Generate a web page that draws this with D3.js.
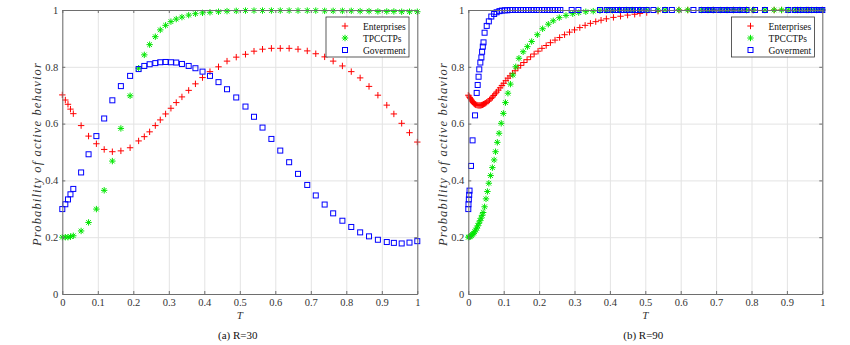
<!DOCTYPE html>
<html>
<head>
<meta charset="utf-8">
<script src="https://cdn.jsdelivr.net/npm/d3@7"></script>
<style>
  body { margin: 0; background: #fff; }
</style>
</head>
<body>
<div id="chart"></div>
<script>
// ---------- data ----------
const seriesNames = ["Enterprises", "TPCCTPs", "Goverment"];
const xTicks = [0, 0.1, 0.2, 0.3, 0.4, 0.5, 0.6, 0.7, 0.8, 0.9, 1];
const yTicks = [0, 0.2, 0.4, 0.6, 0.8, 1];
const captions = ["(a) R=30", "(b) R=90"];

// (a) R=30 : one shared time vector
const tA = [0, 0.0085, 0.016, 0.023, 0.031, 0.053, 0.074, 0.096, 0.118, 0.141, 0.165, 0.191, 0.215,
  0.231, 0.246, 0.262, 0.276, 0.291, 0.306, 0.321, 0.337, 0.356, 0.375, 0.395, 0.416, 0.44, 0.464,
  0.49, 0.516, 0.54, 0.564, 0.589, 0.614, 0.639, 0.664, 0.69, 0.714, 0.739, 0.763, 0.789, 0.814,
  0.839, 0.864, 0.889, 0.914, 0.934, 0.956, 0.978, 1];
const entA = [0.701, 0.683, 0.668, 0.651, 0.635, 0.593, 0.556, 0.529, 0.509, 0.501, 0.504, 0.515, 0.539,
  0.554, 0.571, 0.593, 0.613, 0.634, 0.654, 0.674, 0.694, 0.717, 0.74, 0.762, 0.783, 0.8, 0.82,
  0.834, 0.844, 0.855, 0.862, 0.865, 0.865, 0.865, 0.862, 0.856, 0.846, 0.835, 0.82, 0.803, 0.783,
  0.761, 0.731, 0.7, 0.665, 0.634, 0.601, 0.568, 0.535];
const tpcA = [0.2, 0.2, 0.2, 0.202, 0.205, 0.222, 0.252, 0.299, 0.365, 0.468, 0.583, 0.698, 0.795,
  0.842, 0.878, 0.906, 0.93, 0.946, 0.959, 0.968, 0.975, 0.982, 0.987, 0.99, 0.992, 0.994, 0.996,
  0.997, 0.998, 0.998, 0.998, 0.998, 0.998, 0.998, 0.998, 0.998, 0.998, 0.997, 0.997, 0.997, 0.997,
  0.996, 0.996, 0.995, 0.995, 0.995, 0.994, 0.994, 0.994];
const govA = [0.299, 0.316, 0.333, 0.351, 0.37, 0.428, 0.492, 0.556, 0.618, 0.682, 0.732, 0.768, 0.792,
  0.803, 0.809, 0.813, 0.816, 0.817, 0.816, 0.815, 0.81, 0.803, 0.795, 0.783, 0.768, 0.746, 0.721,
  0.692, 0.66, 0.624, 0.586, 0.546, 0.505, 0.464, 0.423, 0.384, 0.347, 0.315, 0.284, 0.258, 0.236,
  0.217, 0.203, 0.191, 0.183, 0.18, 0.178, 0.181, 0.186];

// (b) R=90 : each series has its own time points
const tEntB = [0, 0.002, 0.004, 0.006, 0.008, 0.01, 0.012, 0.014, 0.016, 0.018, 0.02, 0.022, 0.025,
  0.028, 0.031, 0.034, 0.037, 0.04, 0.043, 0.046, 0.049, 0.052, 0.056, 0.06, 0.064, 0.068, 0.072,
  0.076, 0.08, 0.085, 0.09, 0.095, 0.1, 0.106, 0.112, 0.118, 0.125, 0.132, 0.14, 0.148, 0.157,
  0.166, 0.176, 0.186, 0.197, 0.208, 0.22, 0.232, 0.245, 0.258, 0.272, 0.286, 0.3, 0.315, 0.33,
  0.345, 0.36, 0.375, 0.39, 0.41, 0.43, 0.45, 0.47, 0.485, 0.504, 0.536, 0.595, 0.62, 0.692,
  0.749, 0.786, 0.805, 0.864, 0.885, 0.93, 0.96, 1];
const entB = [0.7, 0.697, 0.692, 0.688, 0.684, 0.68, 0.677, 0.674, 0.671, 0.669, 0.667, 0.666, 0.665,
  0.664, 0.664, 0.664, 0.665, 0.666, 0.668, 0.67, 0.672, 0.675, 0.679, 0.683, 0.688, 0.693, 0.699,
  0.705, 0.711, 0.718, 0.726, 0.734, 0.742, 0.751, 0.76, 0.768, 0.777, 0.786, 0.796, 0.805, 0.815,
  0.825, 0.835, 0.845, 0.855, 0.865, 0.875, 0.885, 0.894, 0.903, 0.913, 0.922, 0.93, 0.938, 0.946,
  0.953, 0.959, 0.964, 0.969, 0.974, 0.978, 0.982, 0.985, 0.988, 0.991, 0.996, 1, 1, 1,
  1, 1, 1, 1, 1, 1, 1, 1];
const tTpcB = [0, 0.003, 0.006, 0.009, 0.012, 0.015, 0.018, 0.021, 0.024, 0.027, 0.03, 0.033, 0.036,
  0.039, 0.042, 0.046, 0.05, 0.054, 0.058, 0.063, 0.068, 0.073, 0.077, 0.082, 0.087, 0.093, 0.099,
  0.105, 0.112, 0.119, 0.126, 0.134, 0.143, 0.155, 0.167, 0.179, 0.195, 0.21, 0.226, 0.24, 0.257,
  0.276, 0.295, 0.312, 0.332, 0.353, 0.372, 0.391, 0.407, 0.427, 0.447, 0.463, 0.485, 0.504, 0.536,
  0.556, 0.595, 0.62, 0.659, 0.677, 0.692, 0.713, 0.731, 0.749, 0.767, 0.786, 0.805, 0.838, 0.864,
  0.885, 0.904, 0.923, 0.939, 0.955, 0.97, 0.984, 1];
const tpcB = [0.2, 0.201, 0.203, 0.206, 0.21, 0.214, 0.219, 0.225, 0.232, 0.24, 0.249, 0.258, 0.267,
  0.277, 0.287, 0.307, 0.335, 0.361, 0.39, 0.417, 0.445, 0.472, 0.501, 0.534, 0.566, 0.601, 0.636,
  0.674, 0.707, 0.739, 0.771, 0.8, 0.83, 0.853, 0.871, 0.889, 0.913, 0.934, 0.95, 0.962, 0.973,
  0.981, 0.987, 0.991, 0.994, 0.996, 0.998, 0.999, 0.999, 1, 1, 1, 1, 1, 1,
  1, 1, 1, 1, 1, 1, 1, 1, 1, 1, 1, 1, 1, 1,
  1, 1, 1, 1, 1, 1, 1, 1];
const tGovB = [0, 0.0005, 0.0015, 0.0025, 0.0035, 0.0076, 0.012, 0.019, 0.0237, 0.0265, 0.029, 0.031,
  0.034, 0.037, 0.039, 0.041, 0.043, 0.046, 0.052, 0.058, 0.065, 0.073, 0.08, 0.088,
  0.095, 0.103, 0.11, 0.118, 0.125, 0.133, 0.14, 0.148, 0.155, 0.163, 0.17, 0.178, 0.185, 0.193,
  0.2, 0.208, 0.215, 0.223, 0.23, 0.238, 0.245, 0.253, 0.26, 0.292, 0.311, 0.372, 0.391, 0.399,
  0.407, 0.415, 0.423, 0.431, 0.439, 0.447, 0.455, 0.463, 0.471, 0.479, 0.487, 0.495, 0.504, 0.523,
  0.556, 0.575, 0.636, 0.659, 0.668, 0.677, 0.686, 0.695, 0.704, 0.713, 0.722, 0.731, 0.74, 0.749,
  0.758, 0.767, 0.776, 0.786, 0.81, 0.838, 0.904, 0.923, 0.931, 0.939, 0.947, 0.955, 0.962, 0.97,
  0.977, 0.984, 0.99, 0.995, 1];
const govB = [0.299, 0.316, 0.333, 0.349, 0.364, 0.451, 0.541, 0.629, 0.708, 0.736, 0.765, 0.791,
  0.815, 0.833, 0.853, 0.871, 0.886, 0.92, 0.944, 0.96, 0.977, 0.986, 0.992, 0.996,
  0.998, 0.999, 0.999, 1, 1, 1, 1, 1, 1, 1, 1, 1, 1, 1,
  1, 1, 1, 1, 1, 1, 1, 1, 1, 1, 1, 1, 1, 1,
  1, 1, 1, 1, 1, 1, 1, 1, 1, 1, 1, 1, 1, 1,
  1, 1, 1, 1, 1, 1, 1, 1, 1, 1, 1, 1, 1, 1,
  1, 1, 1, 1, 1, 1, 1, 1, 1, 1, 1, 1, 1, 1,
  1, 1, 1, 1, 1];

// ---------- drawing ----------
const W = 850, H = 345;
const FONT = "Liberation Serif, Times New Roman, DejaVu Serif, serif";

const svg = d3.select("#chart").append("svg")
    .attr("width", W)
    .attr("height", H)
    .style("display", "block")
    .style("font-family", FONT);
svg.append("rect").attr("width", W).attr("height", H).attr("fill", "#fff");

const colors = ["#ff0000", "#00e600", "#0000ff"];
const ms = 3.2;  // marker half size

function marker(sel, kind) {
    if (kind === 0) {
        sel.append("path").attr("d", `M${-ms},0H${ms}M0,${-ms}V${ms}`)
            .attr("stroke", colors[0]).attr("stroke-width", 1).attr("fill", "none");
    } else if (kind === 1) {
        let d = ms * 0.72;
        sel.append("path").attr("d", `M${-ms},0H${ms}M0,${-ms}V${ms}M${-d},${-d}L${d},${d}M${-d},${d}L${d},${-d}`)
            .attr("stroke", colors[1]).attr("stroke-width", 1).attr("fill", "none");
    } else {
        sel.append("rect").attr("x", -2.5).attr("y", -2.5).attr("width", 5).attr("height", 5)
            .attr("stroke", colors[2]).attr("stroke-width", 1).attr("fill", "none");
    }
}

function drawPanel(left, right, caption, series, legendX) {
    let top = 10, bottom = 294;
    let x = d3.scaleLinear().domain([0, 1]).range([left, right]);
    let y = d3.scaleLinear().domain([0, 1]).range([bottom, top]);
    let g = svg.append("g");

    // grid
    g.append("g")
        .attr("class", "grid")
        .attr("transform", `translate(0,${bottom})`)
        .call(d3.axisBottom(x).tickValues(xTicks).tickSize(-(bottom - top)).tickFormat(""))
        .call(a => a.select(".domain").remove());
    g.append("g")
        .attr("class", "grid")
        .attr("transform", `translate(${left},0)`)
        .call(d3.axisLeft(y).tickValues(yTicks).tickSize(-(right - left)).tickFormat(""))
        .call(a => a.select(".domain").remove());
    g.selectAll(".grid line").attr("stroke", "#e3e3e3");

    // series
    series.forEach((s, k) => {
        let pts = s.t.map((t, i) => [t, s.v[i]]);
        g.append("g").selectAll("g")
            .data(pts)
            .enter()
            .append("g")
            .attr("transform", d => `translate(${x(d[0])},${y(d[1])})`)
            .each(function() { marker(d3.select(this), k); });
    });

    // axes with inward ticks on all four sides
    let fmt = d => String(d);
    let axes = [
        g.append("g").attr("transform", `translate(0,${bottom})`)
            .call(d3.axisBottom(x).tickValues(xTicks).tickSizeInner(-3).tickSizeOuter(0).tickPadding(5).tickFormat(fmt)),
        g.append("g").attr("transform", `translate(${left},0)`)
            .call(d3.axisLeft(y).tickValues(yTicks).tickSizeInner(-3).tickSizeOuter(0).tickPadding(4).tickFormat(fmt)),
        g.append("g").attr("transform", `translate(0,${top})`)
            .call(d3.axisTop(x).tickValues(xTicks).tickSizeInner(-3).tickSizeOuter(0).tickFormat("")),
        g.append("g").attr("transform", `translate(${right},0)`)
            .call(d3.axisRight(y).tickValues(yTicks).tickSizeInner(-3).tickSizeOuter(0).tickFormat(""))
    ];
    axes.forEach(a => {
        a.attr("font-family", null).attr("font-size", null);
        a.select(".domain").attr("stroke", "#6e6e6e");
        a.selectAll(".tick line").attr("stroke", "#6e6e6e");
        a.selectAll(".tick text").attr("fill", "#333")
            .style("font-family", FONT).style("font-size", "10.5px");
    });

    // labels
    let label = "Probability of active behavior";
    let ylab = g.append("text")
        .attr("transform", `translate(${left - 21},${(top + bottom) / 2 + 2}) rotate(-90)`)
        .attr("text-anchor", "middle")
        .style("font-family", FONT)
        .style("font-size", "12.5px")
        .style("font-style", "italic")
        .attr("fill", "#333")
        .text(label);
    // spread the letters so the label covers the span it has in the figure
    let len = ylab.node().getComputedTextLength();
    if (len > 0 && len < 184) ylab.style("letter-spacing", ((184 - len) / label.length).toFixed(2) + "px");

    g.append("text")
        .attr("x", (left + right) / 2)
        .attr("y", 318.5)
        .attr("text-anchor", "middle")
        .style("font-family", FONT)
        .style("font-size", "11px")
        .style("font-style", "italic")
        .attr("fill", "#333")
        .text("T");
    g.append("text")
        .attr("x", (left + right) / 2 - 2)
        .attr("y", 339)
        .attr("text-anchor", "middle")
        .style("font-family", FONT)
        .style("font-size", "11px")
        .attr("fill", "#111")
        .text(caption);

    // legend
    let lg = g.append("g").attr("transform", `translate(${legendX},17)`);
    lg.append("rect").attr("width", 83).attr("height", 40)
        .attr("fill", "#fff").attr("stroke", "#333").attr("stroke-width", 0.8);
    seriesNames.forEach((name, k) => {
        let row = lg.append("g").attr("transform", `translate(19,${9 + k * 12})`);
        marker(row, k);
        row.append("text")
            .attr("x", 18)
            .attr("y", 3.5)
            .style("font-family", FONT)
            .style("font-size", "9.5px")
            .attr("fill", "#111")
            .text(name);
    });
}

drawPanel(62.3, 417.3, captions[0], [
    { t: tA, v: entA },
    { t: tA, v: tpcA },
    { t: tA, v: govA }
], 326);

drawPanel(468.3, 822.3, captions[1], [
    { t: tEntB, v: entB },
    { t: tTpcB, v: tpcB },
    { t: tGovB, v: govB }
], 731.5);
</script>
</body>
</html>
